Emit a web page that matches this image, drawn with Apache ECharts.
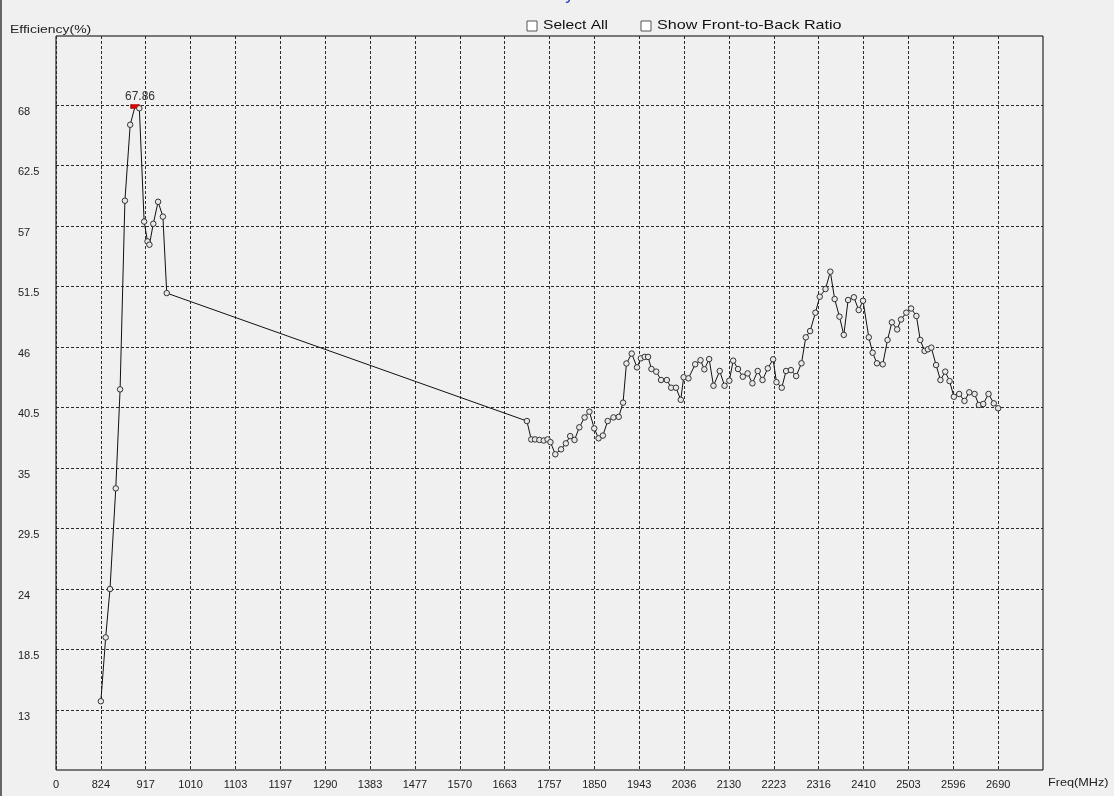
<!DOCTYPE html>
<html>
<head>
<meta charset="utf-8">
<script src="https://cdn.jsdelivr.net/npm/echarts@6/dist/echarts.min.js"></script>
<style>
html,body{margin:0;padding:0;background:#f0f0f0;}
#chart{width:1114px;height:796px;}
</style>
</head>
<body>
<div id="chart"></div>
<script>
// ---- data ----
const freqMHz = [
  824, 834, 843, 855, 864, 874, 885, 895, 904, 914, 921, 925, 933, 943, 953, 961,
  1710, 1719, 1727, 1736, 1745, 1753, 1759, 1769, 1781, 1791,
  1800, 1809, 1819, 1830, 1840, 1850, 1859, 1868, 1878, 1890,
  1901, 1910, 1917, 1928, 1939, 1947, 1955, 1962, 1969, 1979,
  1989, 2001, 2010, 2020, 2030, 2036, 2046, 2060, 2071, 2079,
  2089, 2098, 2111, 2121, 2131, 2139, 2149, 2159, 2169, 2179,
  2190, 2200, 2211, 2222, 2229, 2240, 2249, 2259, 2270, 2281,
  2290, 2299, 2310, 2319, 2331, 2341, 2350, 2360, 2369, 2378,
  2390, 2400, 2409, 2421, 2429, 2438, 2450, 2460, 2469, 2480,
  2488, 2499, 2509, 2520, 2528, 2537, 2544, 2551, 2561, 2570,
  2580, 2589, 2598, 2609, 2620, 2630, 2641, 2650, 2659, 2670,
  2681, 2690
];
const efficiency = [
  13.8, 19.6, 24.0, 33.15, 42.15, 59.3, 66.2, 67.86, 67.7, 57.4, 55.6, 55.3, 57.2, 59.2, 57.85, 50.9,
  39.27, 37.6, 37.6, 37.55, 37.5, 37.6, 37.35, 36.25, 36.7, 37.24,
  37.9, 37.55, 38.7, 39.6, 40.12, 38.6, 37.7, 37.95, 39.27, 39.6,
  39.65, 40.94, 44.5, 45.4, 44.15, 44.97, 45.1, 45.1, 44.0, 43.76,
  43.0, 43.0, 42.3, 42.3, 41.2, 43.25, 43.15, 44.43, 44.8, 43.97,
  44.9, 42.48, 43.82, 42.48, 42.94, 44.76, 44.0, 43.3, 43.6, 42.7,
  43.82, 43.0, 44.06, 44.88, 42.8, 42.3, 43.82, 43.9, 43.36, 44.52,
  46.88, 47.45, 49.12, 50.57, 51.27, 52.85, 50.36, 48.76, 47.1, 50.27,
  50.52, 49.36, 50.2, 46.88, 45.48, 44.52, 44.43, 46.64, 48.24, 47.6,
  48.5, 49.12, 49.5, 48.82, 46.64, 45.64, 45.79, 45.94, 44.36, 43.0,
  43.76, 42.9, 41.48, 41.73, 41.1, 41.88, 41.73, 40.73, 40.82, 41.73,
  40.88, 40.43
];
const peakLabel = '67.86';
// x-axis: grid positions (MHz) and the text printed under each
const xTickValues = [730.7, 824, 917.3, 1010.6, 1103.9, 1197.2, 1290.5, 1383.8, 1477.1, 1570.4,
  1663.7, 1757, 1850.3, 1943.6, 2036.9, 2130.2, 2223.5, 2316.8, 2410.1, 2503.4, 2596.7, 2690];
const xTickLabels = ['0', '824', '917', '1010', '1103', '1197', '1290', '1383', '1477', '1570',
  '1663', '1757', '1850', '1943', '2036', '2130', '2223', '2316', '2410', '2503', '2596', '2690'];
const xMin = 730.7, xMax = 2783.3;
// y-axis
const yTickValues = [13, 18.5, 24, 29.5, 35, 40.5, 46, 51.5, 57, 62.5, 68];
const yTickLabels = ['13', '18.5', '24', '29.5', '35', '40.5', '46', '51.5', '57', '62.5', '68'];
const yMin = 7.55, yMax = 74.27;

const FONT = 'Liberation Sans';
const chart = echarts.init(document.getElementById('chart'), null, {renderer: 'canvas'});

const seriesData = freqMHz.map((f, i) => {
  const item = {value: [f, efficiency[i]]};
  if (efficiency[i].toFixed(2) === peakLabel) {
    item.symbol = 'rect';
    item.symbolSize = [8, 4];
    item.itemStyle = {color: '#e00000', borderColor: '#b00000'};
    item.label = {show: true, position: 'top', distance: 1, offset: [5, 0], formatter: peakLabel,
      color: '#333', fontSize: 12, fontFamily: FONT};
  }
  return item;
});

function labelFor(values, labels) {
  return function (v) {
    for (let i = 0; i < values.length; i++) {
      if (Math.abs(values[i] - v) < 1e-6) return labels[i];
    }
    return '';
  };
}

const dashStyle = {color: '#2a2a2a', width: 1, type: [3, 2]};

chart.setOption({
  backgroundColor: '#f0f0f0',
  animation: false,
  grid: {left: 56, right: 71, top: 36, bottom: 26, show: true,
    backgroundColor: '#f0f0f0', borderColor: '#000', borderWidth: 1},
  xAxis: {
    type: 'value', min: xMin, max: xMax,
    axisLine: {show: false},
    axisTick: {show: false, customValues: xTickValues},
    splitLine: {show: true, lineStyle: dashStyle},
    axisLabel: {show: true, customValues: xTickValues, formatter: labelFor(xTickValues, xTickLabels),
      color: '#222', fontSize: 11, fontFamily: FONT, margin: 9}
  },
  yAxis: {
    type: 'value', min: yMin, max: yMax,
    axisLine: {show: false},
    axisTick: {show: false, customValues: yTickValues},
    splitLine: {show: true, lineStyle: dashStyle},
    axisLabel: {show: true, customValues: yTickValues, formatter: labelFor(yTickValues, yTickLabels),
      color: '#222', fontSize: 11, fontFamily: FONT, align: 'left', margin: 38,
      verticalAlign: 'top', padding: [1, 0, 0, 0]}
  },
  series: [{
    type: 'line',
    data: seriesData,
    symbol: 'circle',
    symbolSize: 5.5,
    showAllSymbol: true,
    lineStyle: {color: '#111', width: 1},
    itemStyle: {color: '#e8e8e8', borderColor: '#333', borderWidth: 1},
    emphasis: {disabled: true}
  }],
  graphic: [
    {type: 'rect', left: 0, top: 0, shape: {width: 2, height: 796}, style: {fill: '#666'}},
    {type: 'text', x: 536, y: -15, style: {text: 'Efficiency', fill: '#1c3fc4', fontSize: 18,
      fontFamily: FONT, align: 'center'}},
    {type: 'text', x: 10, y: 24, scaleX: 1.27, style: {text: 'Efficiency(%)', fill: '#222', fontSize: 11, fontFamily: FONT}},
    {type: 'text', x: 1048, y: 777, scaleX: 1.15, style: {text: 'Freq(MHz)', fill: '#222', fontSize: 11, fontFamily: FONT}},
    {type: 'rect', x: 527, y: 21, shape: {width: 10, height: 10},
      style: {fill: '#ffffff', stroke: '#555', lineWidth: 1}},
    {type: 'text', x: 543, y: 19, scaleX: 1.2, style: {text: 'Select All', fill: '#111', fontSize: 13, fontFamily: FONT}},
    {type: 'rect', x: 641, y: 21, shape: {width: 10, height: 10},
      style: {fill: '#ffffff', stroke: '#555', lineWidth: 1}},
    {type: 'text', x: 657, y: 19, scaleX: 1.24, style: {text: 'Show Front-to-Back Ratio', fill: '#111', fontSize: 13, fontFamily: FONT}}
  ]
});
</script>
</body>
</html>
